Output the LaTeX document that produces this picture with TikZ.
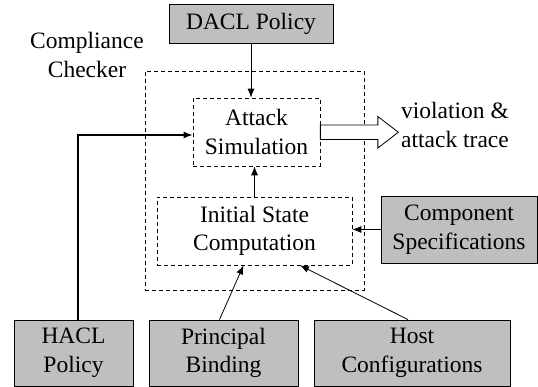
\documentclass[tikz,border=0pt]{standalone}
\usepackage{fontspec}
\setmainfont{Liberation Serif}
\usetikzlibrary{arrows.meta}
\begin{document}
\begin{tikzpicture}[x=1pt,y=-1pt,
  font=\fontsize{23.5}{28.5}\selectfont,
  srcbox/.style={draw, line width=0.8pt, fill=gray!50, align=center, inner sep=0pt},
  dbox/.style={draw, line width=0.7pt, dash pattern=on 4pt off 3pt, align=center, inner sep=0pt},
  conn/.style={line width=0.8pt, -{Latex[length=9pt,width=7pt]}}]
\useasboundingbox (0,0) rectangle (538,387);
\node[dbox, minimum width=219pt, minimum height=219pt] (outer) at (254.5,180.5) {};
\node[srcbox, minimum width=164pt, minimum height=39pt] (dacl) at (251,24) {DACL Policy};
\node[dbox, minimum width=127pt, minimum height=68pt] (attack) at (256.5,132) {Attack\\Simulation};
\node[dbox, minimum width=195pt, minimum height=68pt] (init) at (254.5,231) {Initial State\\Computation};
\node[srcbox, minimum width=156pt, minimum height=67pt] (comp) at (459,229.5) {Component\\Specifications};
\node[srcbox, minimum width=119pt, minimum height=66pt] (hacl) at (73.5,353) {HACL\\Policy};
\node[srcbox, minimum width=149pt, minimum height=66pt] (prin) at (223.5,353) {Principal\\Binding};
\node[srcbox, minimum width=196pt, minimum height=66pt] (host) at (412,353) {Host\\Configurations};
\node[align=center] (cc) at (87,55) {Compliance\\Checker};
\node[align=center] (viol) at (455,125) {violation \&\\attack trace};
\draw[conn] (dacl.south) -- (dacl.south |- attack.north);
\draw[conn] (init.north) -- (init.north |- attack.south);
\draw[conn] (comp.west) -- (comp.west -| init.east);
\draw[conn, line width=1.3pt] ([xshift=4.5pt]hacl.north) |- ([yshift=-3pt]attack.west);
\draw[conn] ([xshift=-4pt]prin.north) -- ([xshift=-11pt]init.south);
\draw[conn] ([xshift=-4pt]host.north) -- ([xshift=45.5pt]init.south);
\draw[line width=0.8pt, fill=white] ([yshift=7pt]attack.east) -- ++(57.5,0) -- ++(0,-8.5) -- ++(20.5,15.75) -- ++(-20.5,15.75) -- ++(0,-8.5) -- ++(-57.5,0) -- cycle;
\end{tikzpicture}
\end{document}
